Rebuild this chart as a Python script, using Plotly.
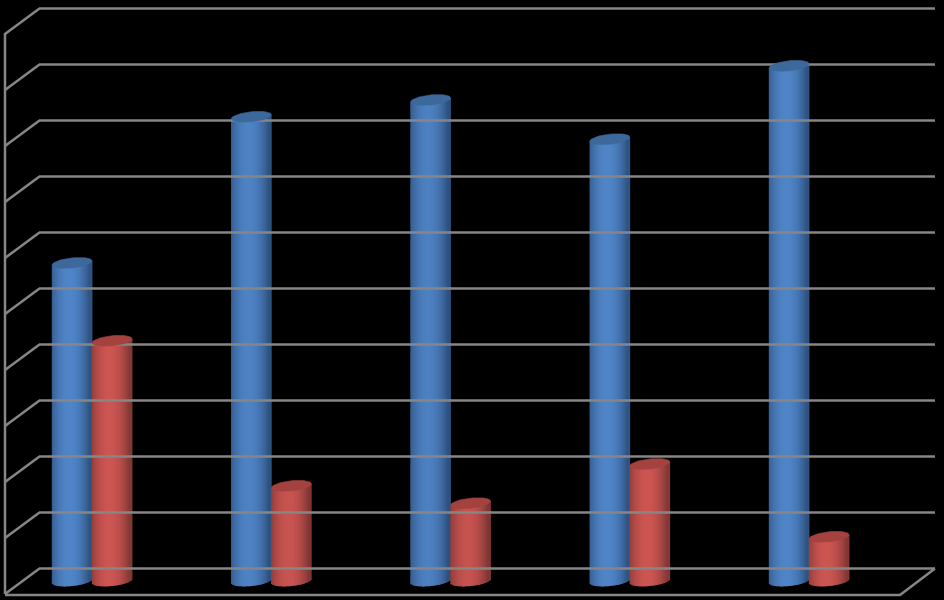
import numpy as np
import plotly.graph_objects as go

categories = [0, 1, 2, 3, 4]
blue_values = [5.68, 8.29, 8.59, 7.89, 9.2]
red_values = [4.29, 1.7, 1.39, 2.09, 0.79]
wall_ticks = list(range(0, 11))

PX_X = 179.25
PX_Y = 56.0
BASE_PX = 581.0
X0_PX = 92.1
BAR_W = 40.0 / PX_X
ELL_B = 5.0 / PX_Y
ELL_TILT = 2.0 / PX_Y
N = 40
GRID = "#868686"


def to_x(px):
    return (px - X0_PX) / PX_X


def to_y(px):
    return (BASE_PX - px) / PX_Y


def cylinder(values, side, edge, centre, top_col):
    ts = (np.arange(N) + 0.5) / N * 2 - 1
    xs, bases, hs, cols = [], [], [], []
    ex, ey = [], []
    theta = np.linspace(0, 2 * np.pi, 61)
    for c, v in zip(categories, values):
        cx = c + side * BAR_W / 2
        for t in ts:
            shade = np.clip(1 - (t + 0.12) ** 2, 0, 1)
            rgb = [int(round(a + (b - a) * shade)) for a, b in zip(edge, centre)]
            low = -ELL_B * np.sqrt(1 - t**2) + ELL_TILT * t
            high = v + ELL_TILT * t
            xs.append(float(cx + t * BAR_W / 2))
            bases.append(float(low))
            hs.append(float(high - low))
            cols.append(f"rgb({rgb[0]},{rgb[1]},{rgb[2]})")
        ex += [float(q) for q in cx + np.cos(theta) * BAR_W / 2] + [None]
        ey += [float(q) for q in v + ELL_TILT * np.cos(theta) + ELL_B * np.sin(theta)] + [None]
    body = go.Bar(x=xs, y=hs, base=bases, width=BAR_W / N * 1.6,
                  marker=dict(color=cols, line=dict(width=0)), hoverinfo="skip",
                  showlegend=False)
    top = go.Scatter(x=ex, y=ey, mode="lines", fill="toself", fillcolor=top_col,
                     line=dict(width=0.6, color=top_col), hoverinfo="skip",
                     showlegend=False)
    return [body, top]


# box: back wall ticks, side wall diagonals, floor
lx, ly = [], []
for k in wall_ticks:
    yb = to_y(568.5 - 56 * k)
    yf = to_y(594 - 56 * k)
    lx += [to_x(5), to_x(39.5), to_x(935), None]
    ly += [yf, yb, yb, None]
lx += [to_x(5), to_x(5), None, to_x(5), to_x(900), to_x(935)]
ly += [to_y(594), to_y(33), None, to_y(595), to_y(595), to_y(568.5)]
box = go.Scatter(x=lx, y=ly, mode="lines", line=dict(color=GRID, width=2.5),
                 hoverinfo="skip", showlegend=False)

traces = [box]
traces += cylinder(blue_values, -1, (48, 84, 130), (80, 133, 200), "#3c689c")
traces += cylinder(red_values, 1, (132, 56, 54), (204, 86, 82), "#a3423f")

fig = go.Figure(traces)
fig.update_layout(
    width=944, height=600, margin=dict(l=0, r=0, t=0, b=0),
    paper_bgcolor="black", plot_bgcolor="black", barmode="overlay",
    xaxis=dict(range=[to_x(0), to_x(944)], visible=False, fixedrange=True),
    yaxis=dict(range=[to_y(600), to_y(0)], visible=False, fixedrange=True),
)
fig.write_html("out.html", include_plotlyjs=True,
               post_script="document.body.style.margin='0';document.body.style.background='black';",
               config=dict(staticPlot=True))
